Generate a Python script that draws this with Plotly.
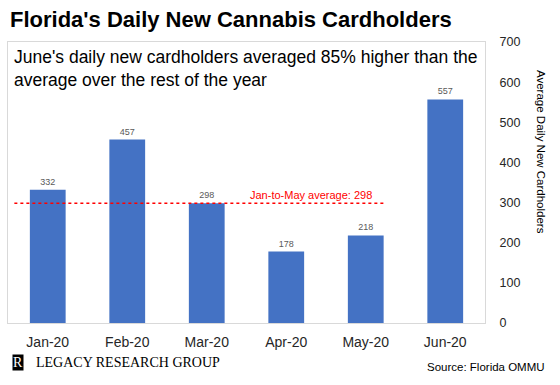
import plotly.graph_objects as go

months = ["Jan-20", "Feb-20", "Mar-20", "Apr-20", "May-20", "Jun-20"]
values = [332, 457, 298, 178, 218, 557]
avg_value = 298
y_ticks = [0, 100, 200, 300, 400, 500, 600, 700]

SANS = "Liberation Sans, Arial, sans-serif"
SERIF = "Liberation Serif, Times New Roman, serif"

W, H = 560, 385
ml, mr, mt, mb = 8, 75, 42, 62


def px_x(v):
    return (v - ml) / (W - ml - mr)


def px_y(v):
    return 1 - (v - mt) / (H - mt - mb)


fig = go.Figure()
fig.add_trace(go.Bar(
    x=months, y=values,
    marker=dict(color="#4472C4", line=dict(width=0)),
    text=[str(v) for v in values], textposition="outside",
    textfont=dict(size=9, color="#595959", family=SANS),
    cliponaxis=False, hoverinfo="skip",
))

fig.add_shape(type="line", xref="x", yref="y", x0=-0.42, x1=4.225,
              y0=avg_value, y1=avg_value,
              line=dict(color="#FF0000", width=1.5, dash="dot"))
fig.add_annotation(x=3.31, y=avg_value, xref="x", yref="y",
                   text=f"Jan-to-May average: {avg_value}", showarrow=False,
                   yanchor="bottom", yshift=0,
                   font=dict(size=11, color="#FF0000", family=SANS))

fig.add_annotation(x=0, y=1, xref="paper", yref="paper", xanchor="left", yanchor="top",
                   xshift=4, yshift=-3, align="left", showarrow=False,
                   text="June's daily new cardholders averaged 85% higher than the<br>average over the rest of the year",
                   font=dict(size=17.5, color="#000000", family=SANS))

fig.add_annotation(x=px_x(541), y=px_y(152), xref="paper", yref="paper", showarrow=False,
                   xanchor="center", yanchor="middle",
                   text="Average Daily New Cardholders", textangle=90,
                   font=dict(size=11.5, color="#000000", family=SANS))

# footer
fig.add_annotation(x=px_x(12), y=px_y(362), xref="paper", yref="paper", xanchor="left", yanchor="middle",
                   showarrow=False, text="R", bgcolor="#000000",
                   font=dict(size=14, color="#FFFFFF", family=SERIF),
                   borderpad=0)
fig.add_annotation(x=px_x(34), y=px_y(362), xref="paper", yref="paper", xanchor="left", yanchor="middle",
                   showarrow=False, text="LEGACY RESEARCH GROUP",
                   font=dict(size=14, color="#000000", family=SERIF))
fig.add_annotation(x=px_x(547), y=px_y(367), xref="paper", yref="paper", xanchor="right", yanchor="middle",
                   showarrow=False, text="Source: Florida OMMU",
                   font=dict(size=11.5, color="#000000", family=SANS))

fig.update_layout(
    width=W, height=H,
    margin=dict(l=ml, r=mr, t=mt, b=mb),
    paper_bgcolor="#FFFFFF", plot_bgcolor="#FFFFFF",
    bargap=0.55, showlegend=False,
    title=dict(text="<b>Florida's Daily New Cannabis Cardholders</b>",
               x=10 / W, xanchor="left", xref="container",
               y=1 - 19 / H, yanchor="middle", yref="container",
               font=dict(size=22, color="#000000", family=SANS)),
    xaxis=dict(showgrid=False, showline=True, mirror=True, linecolor="#D9D9D9", linewidth=1,
               ticks="", tickfont=dict(size=14, color="#262626", family=SANS),
               ticklabelstandoff=6),
    yaxis=dict(side="right", range=[0, 700], tickvals=y_ticks, showgrid=False,
               showline=True, mirror=True, linecolor="#D9D9D9", linewidth=1,
               ticks="", tickfont=dict(size=12.5, color="#262626", family=SANS),
               ticklabelstandoff=11, zeroline=False),
    font=dict(family=SANS),
)

fig.write_html("out.html", config={"displayModeBar": False},
               post_script="document.body.style.margin='0';document.body.style.padding='0';")
